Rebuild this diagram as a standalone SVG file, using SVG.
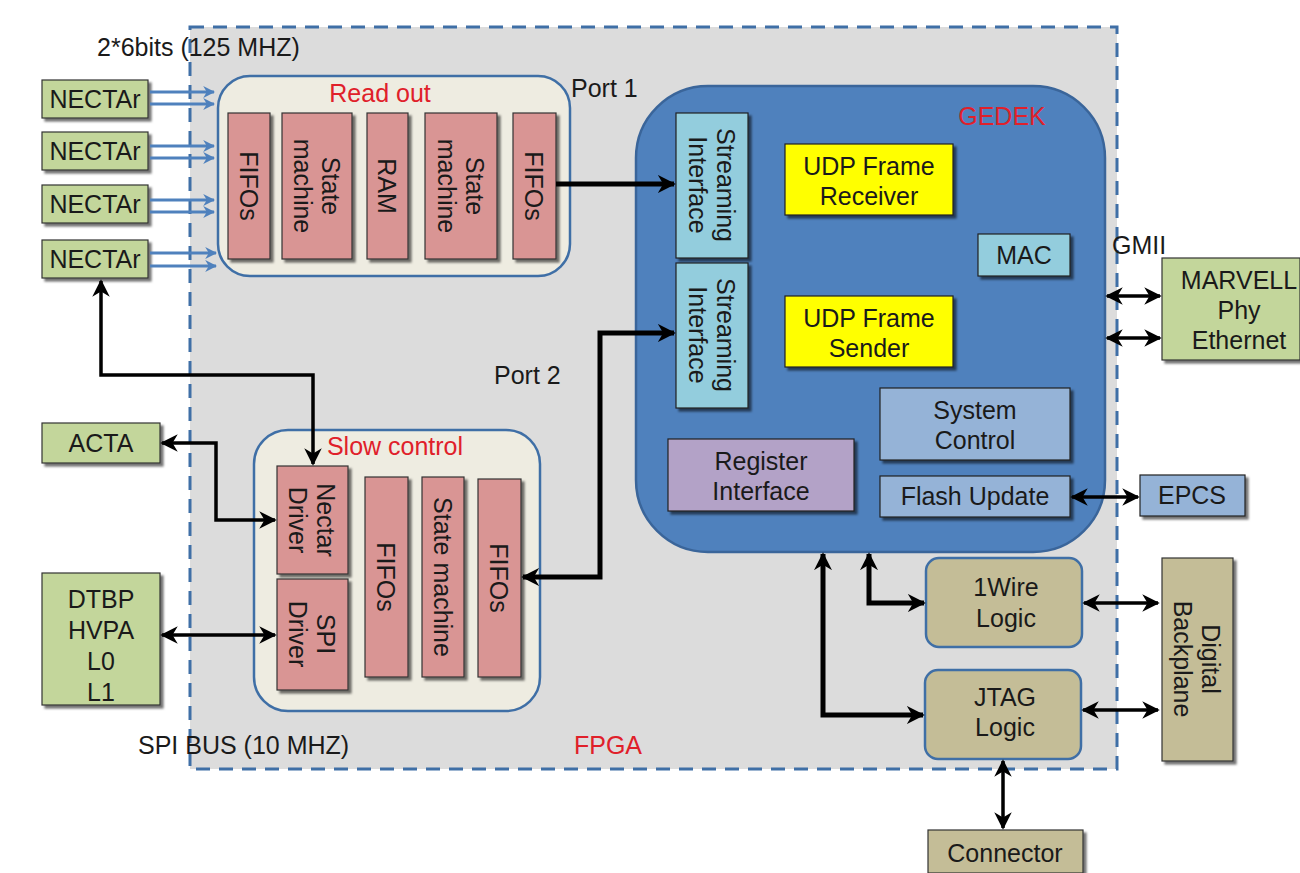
<svg xmlns="http://www.w3.org/2000/svg" width="1300" height="873" viewBox="0 0 1300 873">
<defs>
<filter id="sh" x="-10%" y="-10%" width="130%" height="130%"><feDropShadow dx="3" dy="3" stdDeviation="1" flood-color="#000" flood-opacity="0.55"/></filter>
<marker id="ah" viewBox="0 0 10 10" refX="9" refY="5" markerWidth="3.6" markerHeight="3.6" orient="auto-start-reverse"><path d="M0,0 L10,5 L0,10 L3,5 z" fill="#000"/></marker>
<marker id="ahs" viewBox="0 0 10 10" refX="9" refY="5" markerWidth="5" markerHeight="5" orient="auto-start-reverse"><path d="M0,0 L10,5 L0,10 L3,5 z" fill="#000"/></marker>
<marker id="ab" viewBox="0 0 10 10" refX="9" refY="5" markerWidth="4" markerHeight="4" orient="auto"><path d="M0,0 L10,5 L0,10 L3,5 z" fill="#4f81bd"/></marker>
</defs>
<style>
text{font-family:"Liberation Sans",Arial,sans-serif;font-size:25px;fill:#1a1a1a;text-anchor:middle}
.lbl{text-anchor:start}
.red{fill:#e0202a}
.green{fill:#c3d69b;stroke:#333;stroke-width:1.2;filter:url(#sh)}
.pink{fill:#d99594;stroke:#333;stroke-width:1.2;filter:url(#sh)}
.cont{fill:#eeece1;stroke:#3f6fa6;stroke-width:2.5}
.tan{fill:#c4bd97;stroke:#3f6fa6;stroke-width:2.5}
.tanb{fill:#c4bd97;stroke:#333;stroke-width:1.2;filter:url(#sh)}
.lb{fill:#93cddd;stroke:#222;stroke-width:1.2;filter:url(#sh)}
.yel{fill:#ffff00;stroke:#222;stroke-width:1.2;filter:url(#sh)}
.sb{fill:#95b3d7;stroke:#222;stroke-width:1.2;filter:url(#sh)}
.pur{fill:#b3a2c7;stroke:#222;stroke-width:1.2;filter:url(#sh)}
.thick{fill:none;stroke:#000;stroke-width:5}
.thin{fill:none;stroke:#000;stroke-width:3.5}
.blue{fill:none;stroke:#4f81bd;stroke-width:3}
</style>

<g id="fpga">
<rect x="190" y="27" width="927" height="742" fill="#dcdcdc" stroke="#3f6fa6" stroke-width="3" stroke-dasharray="14,9"/>
<text x="608" y="754" class="red">FPGA</text>
</g>

<g id="labels">
<text x="97" y="56" class="lbl">2*6bits (125 MHZ)</text>
<text x="571" y="97" class="lbl">Port 1</text>
<text x="494" y="384" class="lbl">Port 2</text>
<text x="1112" y="254" class="lbl">GMII</text>
<text x="138" y="754" class="lbl">SPI BUS (10 MHZ)</text>
</g>

<g id="nectar1"><rect x="42" y="80" width="106" height="38" class="green"/><text x="95" y="108">NECTAr</text></g>
<g id="nectar2"><rect x="42" y="132" width="106" height="38" class="green"/><text x="95" y="160">NECTAr</text></g>
<g id="nectar3"><rect x="42" y="185" width="106" height="38" class="green"/><text x="95" y="213">NECTAr</text></g>
<g id="nectar4"><rect x="42" y="240" width="106" height="38" class="green"/><text x="95" y="268">NECTAr</text></g>
<g id="acta"><rect x="42" y="423" width="118" height="40" class="green"/><text x="101" y="452">ACTA</text></g>
<g id="dtbp"><rect x="42" y="573" width="118" height="132" class="green"/>
<text x="101" y="608">DTBP</text><text x="101" y="639">HVPA</text><text x="101" y="670">L0</text><text x="101" y="701">L1</text></g>

<g id="readout">
<rect x="218" y="76" width="352" height="200" rx="32" class="cont"/>
<text x="380" y="102" class="red">Read out</text>
</g>
<g id="ro-fifo1"><rect x="228" y="113" width="42" height="146" class="pink"/><text transform="translate(249,186) rotate(90)" y="9">FIFOs</text></g>
<g id="ro-sm1"><rect x="282" y="113" width="70" height="146" class="pink"/><text transform="translate(317,186) rotate(90)"><tspan x="0" y="-5">State</tspan><tspan x="0" y="23">machine</tspan></text></g>
<g id="ro-ram"><rect x="367" y="113" width="41" height="146" class="pink"/><text transform="translate(387,186) rotate(90)" y="9">RAM</text></g>
<g id="ro-sm2"><rect x="425" y="113" width="72" height="146" class="pink"/><text transform="translate(461,186) rotate(90)"><tspan x="0" y="-5">State</tspan><tspan x="0" y="23">machine</tspan></text></g>
<g id="ro-fifo2"><rect x="513" y="113" width="43" height="146" class="pink"/><text transform="translate(534,186) rotate(90)" y="9">FIFOs</text></g>

<g id="slowcontrol">
<rect x="254" y="430" width="286" height="281" rx="34" class="cont"/>
<text x="395" y="455" class="red">Slow control</text>
</g>
<g id="sc-nectar"><rect x="277" y="466" width="71" height="108" class="pink"/><text transform="translate(312,520) rotate(90)"><tspan x="0" y="-5">Nectar</tspan><tspan x="0" y="23">Driver</tspan></text></g>
<g id="sc-spi"><rect x="277" y="579" width="71" height="111" class="pink"/><text transform="translate(312,634) rotate(90)"><tspan x="0" y="-5">SPI</tspan><tspan x="0" y="23">Driver</tspan></text></g>
<g id="sc-fifo1"><rect x="365" y="477" width="43" height="200" class="pink"/><text transform="translate(386,577) rotate(90)" y="9">FIFOs</text></g>
<g id="sc-sm"><rect x="422" y="477" width="42" height="200" class="pink"/><text transform="translate(443,577) rotate(90)" y="9">State machine</text></g>
<g id="sc-fifo2"><rect x="478" y="479" width="43" height="198" class="pink"/><text transform="translate(499,578) rotate(90)" y="9">FIFOs</text></g>

<g id="gedek">
<rect x="636" y="86" width="469" height="466" rx="72" fill="#4f81bd" stroke="#3a659a" stroke-width="2.5"/>
<text x="1002" y="125" class="red">GEDEK</text>
</g>
<g id="stream1"><rect x="676" y="113" width="72" height="145" class="lb"/><text transform="translate(712,185) rotate(90)"><tspan x="0" y="-5">Streaming</tspan><tspan x="0" y="23">Interface</tspan></text></g>
<g id="stream2"><rect x="676" y="263" width="72" height="145" class="lb"/><text transform="translate(712,335) rotate(90)"><tspan x="0" y="-5">Streaming</tspan><tspan x="0" y="23">Interface</tspan></text></g>
<g id="udp-rx"><rect x="785" y="144" width="168" height="71" class="yel"/><text x="869" y="175">UDP Frame</text><text x="869" y="205">Receiver</text></g>
<g id="mac"><rect x="978" y="234" width="92" height="42" class="lb"/><text x="1024" y="264">MAC</text></g>
<g id="udp-tx"><rect x="785" y="296" width="168" height="71" class="yel"/><text x="869" y="327">UDP Frame</text><text x="869" y="357">Sender</text></g>
<g id="sysctl"><rect x="880" y="388" width="190" height="72" class="sb"/><text x="975" y="419">System</text><text x="975" y="449">Control</text></g>
<g id="regif"><rect x="668" y="439" width="186" height="72" class="pur"/><text x="761" y="470">Register</text><text x="761" y="500">Interface</text></g>
<g id="flash"><rect x="880" y="476" width="190" height="41" class="sb"/><text x="975" y="505">Flash Update</text></g>

<g id="marvell"><rect x="1162" y="258" width="138" height="102" class="green"/><text x="1239" y="289">MARVELL</text><text x="1239" y="319">Phy</text><text x="1239" y="349">Ethernet</text></g>
<g id="epcs"><rect x="1140" y="475" width="105" height="41" class="sb"/><text x="1192" y="504">EPCS</text></g>
<g id="onewire"><rect x="926" y="558" width="156" height="89" rx="13" class="tan"/><text x="1006" y="596">1Wire</text><text x="1006" y="627">Logic</text></g>
<g id="jtag"><rect x="925" y="670" width="156" height="89" rx="13" class="tan"/><text x="1005" y="706">JTAG</text><text x="1005" y="736">Logic</text></g>
<g id="backplane"><rect x="1162" y="558" width="71" height="203" class="tanb"/><text transform="translate(1197,659) rotate(90)"><tspan x="0" y="-5">Digital</tspan><tspan x="0" y="23">Backplane</tspan></text></g>
<g id="connector"><rect x="928" y="830" width="155" height="43" class="tanb"/><text x="1005" y="862">Connector</text></g>

<g id="connectors">
<line x1="150" y1="92" x2="214" y2="92" class="blue" marker-end="url(#ab)"/>
<line x1="150" y1="104" x2="214" y2="104" class="blue" marker-end="url(#ab)"/>
<line x1="150" y1="146" x2="214" y2="146" class="blue" marker-end="url(#ab)"/>
<line x1="150" y1="158" x2="214" y2="158" class="blue" marker-end="url(#ab)"/>
<line x1="150" y1="200" x2="214" y2="200" class="blue" marker-end="url(#ab)"/>
<line x1="150" y1="212" x2="214" y2="212" class="blue" marker-end="url(#ab)"/>
<line x1="150" y1="253" x2="216" y2="253" class="blue" marker-end="url(#ab)"/>
<line x1="150" y1="266" x2="216" y2="266" class="blue" marker-end="url(#ab)"/>

<line x1="556" y1="184" x2="674" y2="184" class="thick" marker-end="url(#ah)"/>
<polyline points="523,577 600,577 600,333 674,333" class="thick" marker-start="url(#ah)" marker-end="url(#ah)"/>
<polyline points="101,281 101,375 313,375 313,464" class="thin" marker-start="url(#ahs)" marker-end="url(#ahs)"/>
<polyline points="162,443 216,443 216,520 275,520" class="thin" marker-start="url(#ahs)" marker-end="url(#ahs)"/>
<line x1="162" y1="635" x2="275" y2="635" class="thin" marker-start="url(#ahs)" marker-end="url(#ahs)"/>
<polyline points="823,554 823,715 923,715" class="thick" marker-start="url(#ah)" marker-end="url(#ah)"/>
<polyline points="869,554 869,603 924,603" class="thick" marker-start="url(#ah)" marker-end="url(#ah)"/>
<line x1="1072" y1="497" x2="1138" y2="497" class="thin" marker-start="url(#ahs)" marker-end="url(#ahs)"/>
<line x1="1107" y1="296" x2="1160" y2="296" class="thin" marker-start="url(#ahs)" marker-end="url(#ahs)"/>
<line x1="1107" y1="338" x2="1160" y2="338" class="thin" marker-start="url(#ahs)" marker-end="url(#ahs)"/>
<line x1="1084" y1="603" x2="1158" y2="603" class="thin" marker-start="url(#ahs)" marker-end="url(#ahs)"/>
<line x1="1083" y1="710" x2="1158" y2="710" class="thin" marker-start="url(#ahs)" marker-end="url(#ahs)"/>
<line x1="1003" y1="761" x2="1003" y2="828" class="thin" marker-start="url(#ahs)" marker-end="url(#ahs)"/>
</g>
</svg>
